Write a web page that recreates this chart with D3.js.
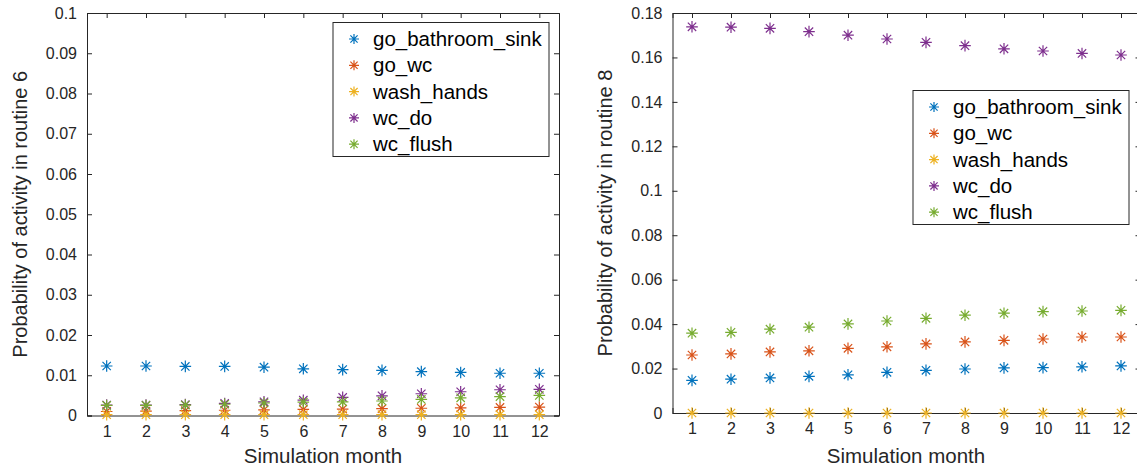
<!DOCTYPE html>
<html><head><meta charset="utf-8">
<script src="https://cdn.jsdelivr.net/npm/d3@7"></script>
<style>body{margin:0;background:#fff;} svg{display:block;font-family:"Liberation Sans",Arial,sans-serif;}</style>
</head><body>
<svg id="chart" width="1137" height="466"></svg>
<script>
const months = [1,2,3,4,5,6,7,8,9,10,11,12];
const seriesNames = ["go_bathroom_sink","go_wc","wash_hands","wc_do","wc_flush"];
const colors = ["#0072BD","#D95319","#EDB120","#7E2F8E","#77AC30"];

// Routine 6
const r6_go_bathroom_sink = [0.0123,0.0123,0.0122,0.0122,0.0120,0.0116,0.0114,0.0112,0.0109,0.0107,0.0105,0.0105];
const r6_go_wc            = [0.0010,0.0011,0.0012,0.0013,0.0014,0.0015,0.0016,0.0017,0.0018,0.0019,0.0020,0.0021];
const r6_wash_hands       = [0.0002,0.0002,0.0002,0.0002,0.0002,0.0002,0.0002,0.0002,0.0002,0.0002,0.0002,0.0002];
const r6_wc_do            = [0.0026,0.0026,0.0027,0.0030,0.0034,0.0038,0.0045,0.0049,0.0054,0.0059,0.0064,0.0065];
const r6_wc_flush         = [0.0025,0.0025,0.0026,0.0028,0.0031,0.0033,0.0034,0.0036,0.0040,0.0044,0.0047,0.0050];

// Routine 8
const r8_go_bathroom_sink = [0.0147,0.0152,0.0158,0.0165,0.0172,0.0183,0.0192,0.0198,0.0203,0.0204,0.0208,0.0212];
const r8_go_wc            = [0.0261,0.0266,0.0275,0.0280,0.0291,0.0298,0.0311,0.0320,0.0327,0.0333,0.0342,0.0342];
const r8_wash_hands       = [0,0,0,0,0,0,0,0,0,0,0,0];
const r8_wc_do            = [0.1738,0.1736,0.1731,0.1716,0.1700,0.1683,0.1668,0.1653,0.1639,0.1629,0.1618,0.1611];
const r8_wc_flush         = [0.0359,0.0363,0.0377,0.0386,0.0401,0.0414,0.0426,0.0440,0.0449,0.0456,0.0459,0.0462];

const yTicks6 = [0,0.01,0.02,0.03,0.04,0.05,0.06,0.07,0.08,0.09,0.1];
const yTickLabels6 = ["0","0.01","0.02","0.03","0.04","0.05","0.06","0.07","0.08","0.09","0.1"];
const yTicks8 = [0,0.02,0.04,0.06,0.08,0.1,0.12,0.14,0.16,0.18];
const yTickLabels8 = ["0","0.02","0.04","0.06","0.08","0.1","0.12","0.14","0.16","0.18"];

const svg = d3.select("#chart");
const axisColor = "#262626";

function star(g, x, y, r, color){
  const d = r*0.72;
  const p = `M${x-r},${y}L${x+r},${y}M${x},${y-r}L${x},${y+r}M${x-d},${y-d}L${x+d},${y+d}M${x-d},${y+d}L${x+d},${y-d}`;
  g.append("path").attr("d",p).attr("stroke",color).attr("stroke-width",1.2).attr("fill","none");
}

function panel(cfg){
  const {left,right,top,bottom,ymax,yTicks,yLabels,data,ylabel,legend} = cfg;
  const x = d3.scaleLinear().domain([0.5,12.5]).range([left,right]);
  const y = d3.scaleLinear().domain([0,ymax]).range([bottom,top]);
  const g = svg.append("g");
  const xAxis = d3.axisBottom(x).tickValues(months).tickSize(-5).tickPadding(10).tickFormat(d3.format("d"));
  const xAxisTop = d3.axisTop(x).tickValues(months).tickSize(-5).tickFormat("");
  const yAxis = d3.axisLeft(y).tickValues(yTicks).tickSize(-5).tickPadding(10).tickFormat((d,i)=>yLabels[i]);
  const yAxisR = d3.axisRight(y).tickValues(yTicks).tickSize(-5).tickFormat("");
  const styleAx = sel => {
    sel.select(".domain").attr("stroke",axisColor).attr("stroke-width",1);
    sel.selectAll(".tick line").attr("stroke",axisColor);
    sel.selectAll(".tick text").attr("fill",axisColor).style("font-size","16px").style("font-family","'Liberation Sans',Arial,sans-serif");
  };
  g.append("g").attr("transform",`translate(0,${bottom})`).call(xAxis).call(styleAx);
  g.append("g").attr("transform",`translate(0,${top})`).call(xAxisTop).call(styleAx);
  g.append("g").attr("transform",`translate(${left},0)`).call(yAxis).call(styleAx);
  g.append("g").attr("transform",`translate(${right},0)`).call(yAxisR).call(styleAx);
  data.forEach((vals,si)=>{
    const mg = g.append("g");
    vals.forEach((v,i)=> star(mg, x(months[i]), y(v), 5.8, colors[si]));
  });
  g.append("text").attr("x",cfg.xlabelX).attr("y",463)
    .attr("text-anchor","middle").attr("fill",axisColor).style("font-size","20.5px").text("Simulation month");
  g.append("text").attr("transform",`translate(${cfg.ylabelX},${(top+bottom)/2}) rotate(-90)`)
    .attr("text-anchor","middle").attr("fill",axisColor).style("font-size","20px").text(ylabel);
  const lg = g.append("g");
  lg.append("rect").attr("x",legend.x).attr("y",legend.y).attr("width",legend.w).attr("height",legend.h)
    .attr("fill","#fff").attr("stroke",axisColor).attr("stroke-width",1);
  seriesNames.forEach((n,i)=>{
    const cy = legend.y + 16.5 + i*26.3;
    star(lg, legend.x+21, cy, 5, colors[i]);
    lg.append("text").attr("x",legend.x+40).attr("y",cy+7).attr("fill","#000").style("font-size","20.5px").text(n);
  });
}

panel({left:87,right:559,top:13,bottom:415.5,ymax:0.1,yTicks:yTicks6,yLabels:yTickLabels6,
  data:[r6_go_bathroom_sink,r6_go_wc,r6_wash_hands,r6_wc_do,r6_wc_flush],
  ylabel:"Probability of activity in routine 6",ylabelX:27,xlabelX:323,
  legend:{x:333,y:22.5,w:216,h:134}});
panel({left:672.5,right:1140.5,top:13,bottom:413,ymax:0.18,yTicks:yTicks8,yLabels:yTickLabels8,
  data:[r8_go_bathroom_sink,r8_go_wc,r8_wash_hands,r8_wc_do,r8_wc_flush],
  ylabel:"Probability of activity in routine 8",ylabelX:612,xlabelX:906,
  legend:{x:913,y:90.5,w:216,h:134}});
</script>
</body></html>
